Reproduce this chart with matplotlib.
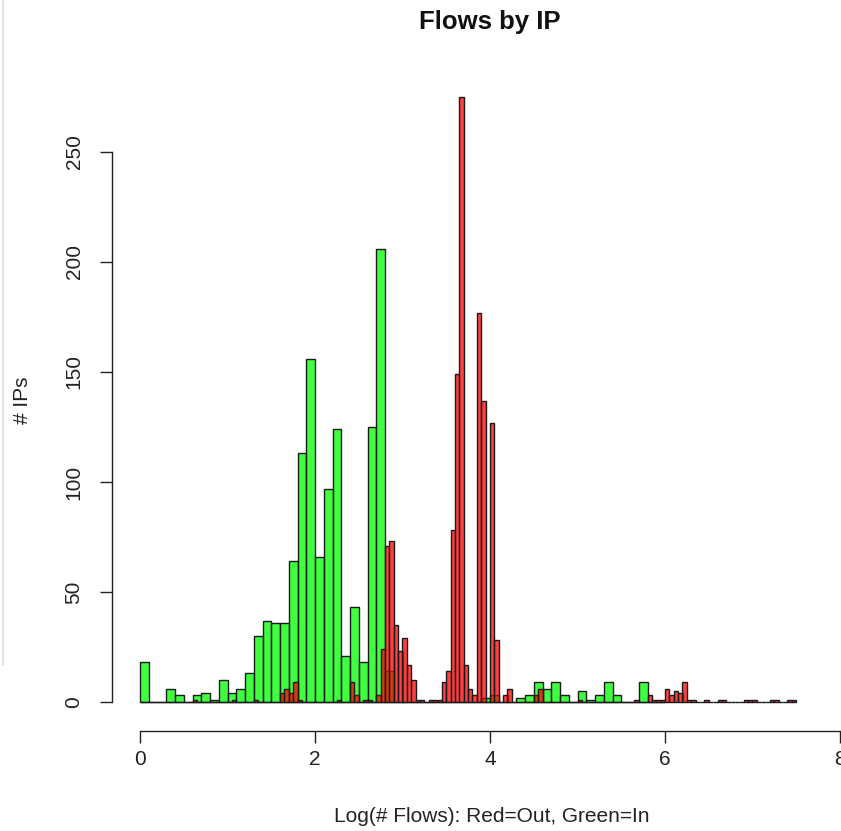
import matplotlib
matplotlib.use("Agg")
import matplotlib.pyplot as plt
from matplotlib.lines import Line2D
import numpy as np

plt.rcParams['font.family'] = ['Liberation Sans', 'DejaVu Sans']

# Histogram counts
# inbound flows (green), bins of 0.1 starting at 0
green_start = 0.0
green_width = 0.1
green_counts = [18, 0, 0, 6, 3, 0, 3, 4, 1, 10,
                4, 6, 13, 30, 37, 36, 36, 64, 113, 156,
                66, 97, 124, 21, 43, 18, 125, 206, 14, 0,
                0, 0, 0, 0, 0, 0, 0, 0, 0, 2,
                3, 0, 0, 2, 3, 9, 6, 9, 3, 0,
                5, 1, 3, 9, 3, 0, 0, 9, 0, 0]

# outbound flows (red), bins of 0.05 starting at 0
red_start = 0.0
red_width = 0.05
red_counts = [0, 0, 0, 0, 0, 0, 0, 0, 0, 0,
              0, 0, 1, 0, 0, 0, 0, 0, 0, 0,
              0, 1, 0, 0, 0, 0, 1, 0, 0, 0,
              0, 0, 4, 6, 4, 9, 1, 0, 0, 0,
              0, 0, 0, 0, 0, 1, 0, 0, 9, 3,
              0, 1, 1, 0, 3, 24, 71, 73, 35, 23,
              29, 17, 10, 1, 1, 0, 1, 1, 1, 9,
              14, 78, 149, 275, 17, 6, 3, 177, 137, 0,
              127, 28, 0, 3, 6, 0, 0, 0, 0, 0,
              3, 6, 0, 0, 0, 0, 0, 0, 0, 0,
              1, 0, 0, 0, 0, 0, 0, 0, 0, 0,
              0, 0, 0, 1, 0, 0, 3, 1, 1, 1,
              6, 3, 5, 4, 9, 1, 1, 0, 0, 1,
              0, 0, 1, 1, 0, 0, 0, 0, 1, 1,
              1, 0, 0, 0, 1, 1, 0, 0, 1, 1]

x_ticks = [0, 2, 4, 6, 8]
y_ticks = [0, 50, 100, 150, 200, 250]

W, H = 841, 831
fig = plt.figure(figsize=(W / 100, H / 100), dpi=100)
# plot region in pixels: x 112..868, y 73..731 (from top)
ax = fig.add_axes([112 / W, (H - 731) / H, (868 - 112) / W, (731 - 73) / H])

green_left = green_start + green_width * np.arange(len(green_counts))
red_left = red_start + red_width * np.arange(len(red_counts))

ax.bar(green_left, green_counts, width=green_width, align='edge',
       color=(0, 1, 0, 0.75), edgecolor='#1a1a1a', linewidth=1.0)
ax.bar(red_left, red_counts, width=red_width, align='edge',
       color=(1, 0, 0, 0.75), edgecolor='#1a1a1a', linewidth=1.0)

ax.set_xlim(-0.32, 8.32)
ax.set_ylim(-13.18, 285.9)

for s in ['top', 'right']:
    ax.spines[s].set_visible(False)
ax.spines['left'].set_bounds(0, 250)
ax.spines['bottom'].set_bounds(0, 8)
for s in ['left', 'bottom']:
    ax.spines[s].set_linewidth(1.0)
    ax.spines[s].set_color('#222222')

ax.set_xticks(x_ticks)
ax.set_yticks(y_ticks)
ax.set_yticklabels([str(v) for v in y_ticks], rotation=90, va='center')
ax.tick_params(axis='both', direction='out', length=8.5, width=1.0,
               color='#222222', labelsize=15, labelcolor='#222222')
ax.tick_params(axis='x', pad=5)
ax.tick_params(axis='y', pad=12)

fig.text(490 / W, 1 - 22 / H, 'Flows by IP', ha='center', va='center',
         fontsize=18.5, fontweight='bold', color='#111111')
fig.text(492 / W, 1 - 817 / H, 'Log(# Flows): Red=Out, Green=In',
         ha='center', va='center', fontsize=15, color='#222222')
fig.text(22 / W, 1 - 400 / H, '# IPs', ha='center', va='center',
         rotation=90, fontsize=15, color='#222222')

# faint window edge on the left of the screenshot
fig.add_artist(Line2D([2.5 / W, 2.5 / W], [1, 1 - 665 / H],
                      color='#dedede', linewidth=1.2))

fig.savefig('out.png', dpi=100)
